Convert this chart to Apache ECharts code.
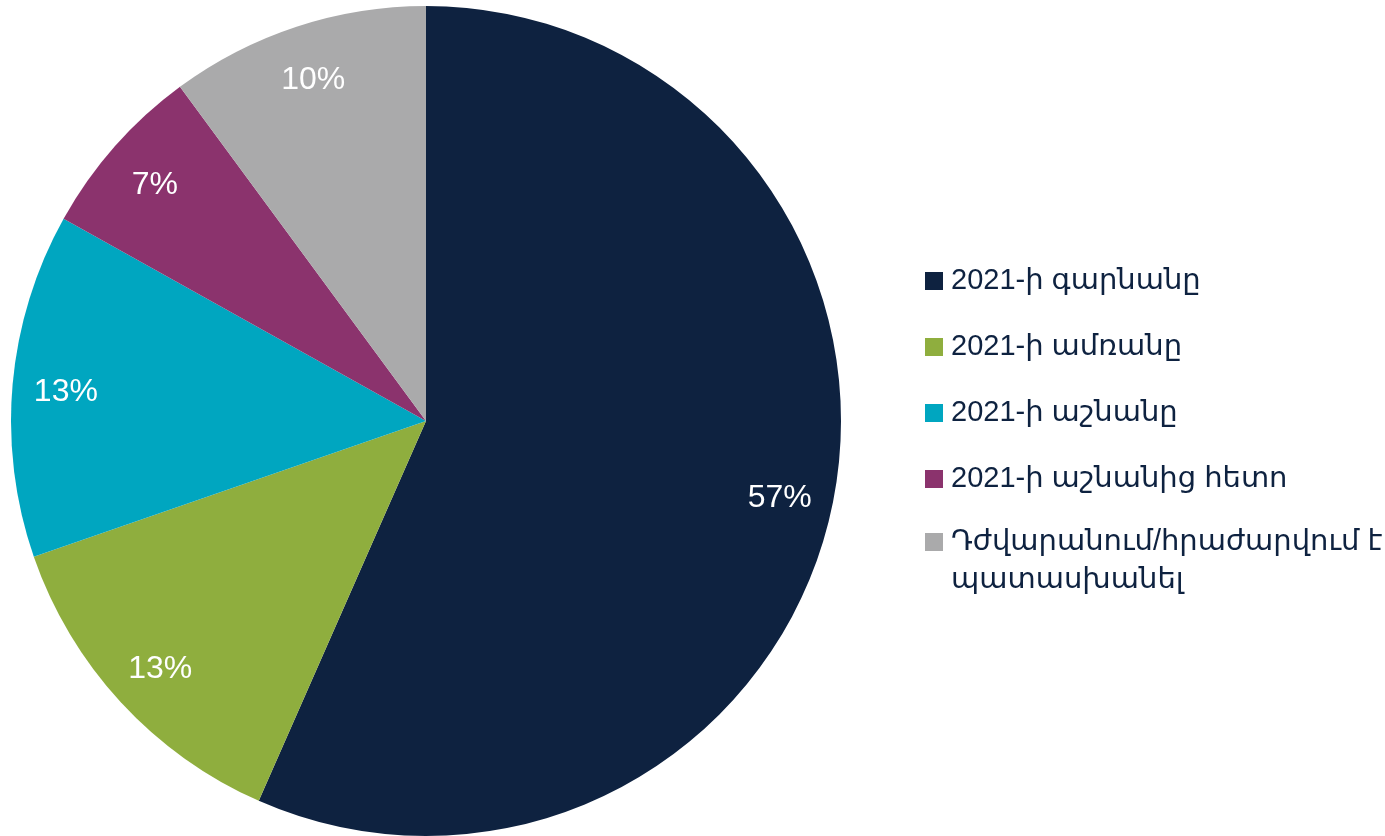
<!DOCTYPE html>
<html>
<head>
<meta charset="utf-8">
<script src="https://cdn.jsdelivr.net/npm/echarts@6/dist/echarts.min.js"></script>
<style>
  html, body { margin: 0; padding: 0; background: #fff; }
  #chart { width: 1385px; height: 836px; }
</style>
</head>
<body>
<div id="chart"></div>
<script>
// data (slice angles), labels show rounded percents
const categories = [
  '2021-ի գարնանը',
  '2021-ի ամռանը',
  '2021-ի աշնանը',
  '2021-ի աշնանից հետո',
  'Դժվարանում/հրաժարվում է պատասխանել'
];
const values = [56.6, 13.1, 13.4, 6.8, 10.1];
const colors = ['#0e2240', '#8fae3e', '#00a6c0', '#8b336d', '#aaaaab'];

const fontFamily = "'Liberation Sans', 'DejaVu Sans', sans-serif";
const textColor = '#0e2240';

const chart = echarts.init(document.getElementById('chart'));

const pieData = categories.map((name, i) => ({
  name,
  value: values[i],
  itemStyle: { color: colors[i] }
}));

const legendBase = {
  orient: 'vertical',
  left: 920,
  icon: 'rect',
  itemWidth: 18,
  itemHeight: 18,
  itemGap: 28,
  selectedMode: false,
  textStyle: {
    color: textColor,
    fontFamily,
    fontSize: 29,
    lineHeight: 38,
    padding: [0, 0, 0, 3]
  }
};

chart.setOption({
  animation: false,
  color: colors,
  legend: [
    Object.assign({}, legendBase, {
      top: 257,
      data: categories.slice(0, 4)
    }),
    Object.assign({}, legendBase, {
      top: 480,
      data: categories.slice(4),
      // blank line on top keeps the square level with the first text line
      formatter: () => '\nԴժվարանում/հրաժարվում է\nպատասխանել'
    })
  ],
  series: [
    {
      type: 'pie',
      center: [426, 421],
      radius: 415,
      startAngle: 90,
      clockwise: true,
      silent: true,
      label: { show: false },
      labelLine: { show: false },
      data: pieData
    },
    {
      // transparent ring used only to place the labels near the rim
      type: 'pie',
      center: [426, 424],
      radius: [302, 415],
      startAngle: 90,
      clockwise: true,
      silent: true,
      legendHoverLink: false,
      itemStyle: { color: 'rgba(0,0,0,0)' },
      label: {
        show: true,
        position: 'inside',
        formatter: p => Math.round(p.value) + '%',
        color: '#ffffff',
        fontFamily,
        fontSize: 32
      },
      labelLine: { show: false },
      data: categories.map((name, i) => ({
        name: name + ' ',
        value: values[i],
        itemStyle: { color: 'rgba(0,0,0,0)' }
      }))
    }
  ]
});
</script>
</body>
</html>
